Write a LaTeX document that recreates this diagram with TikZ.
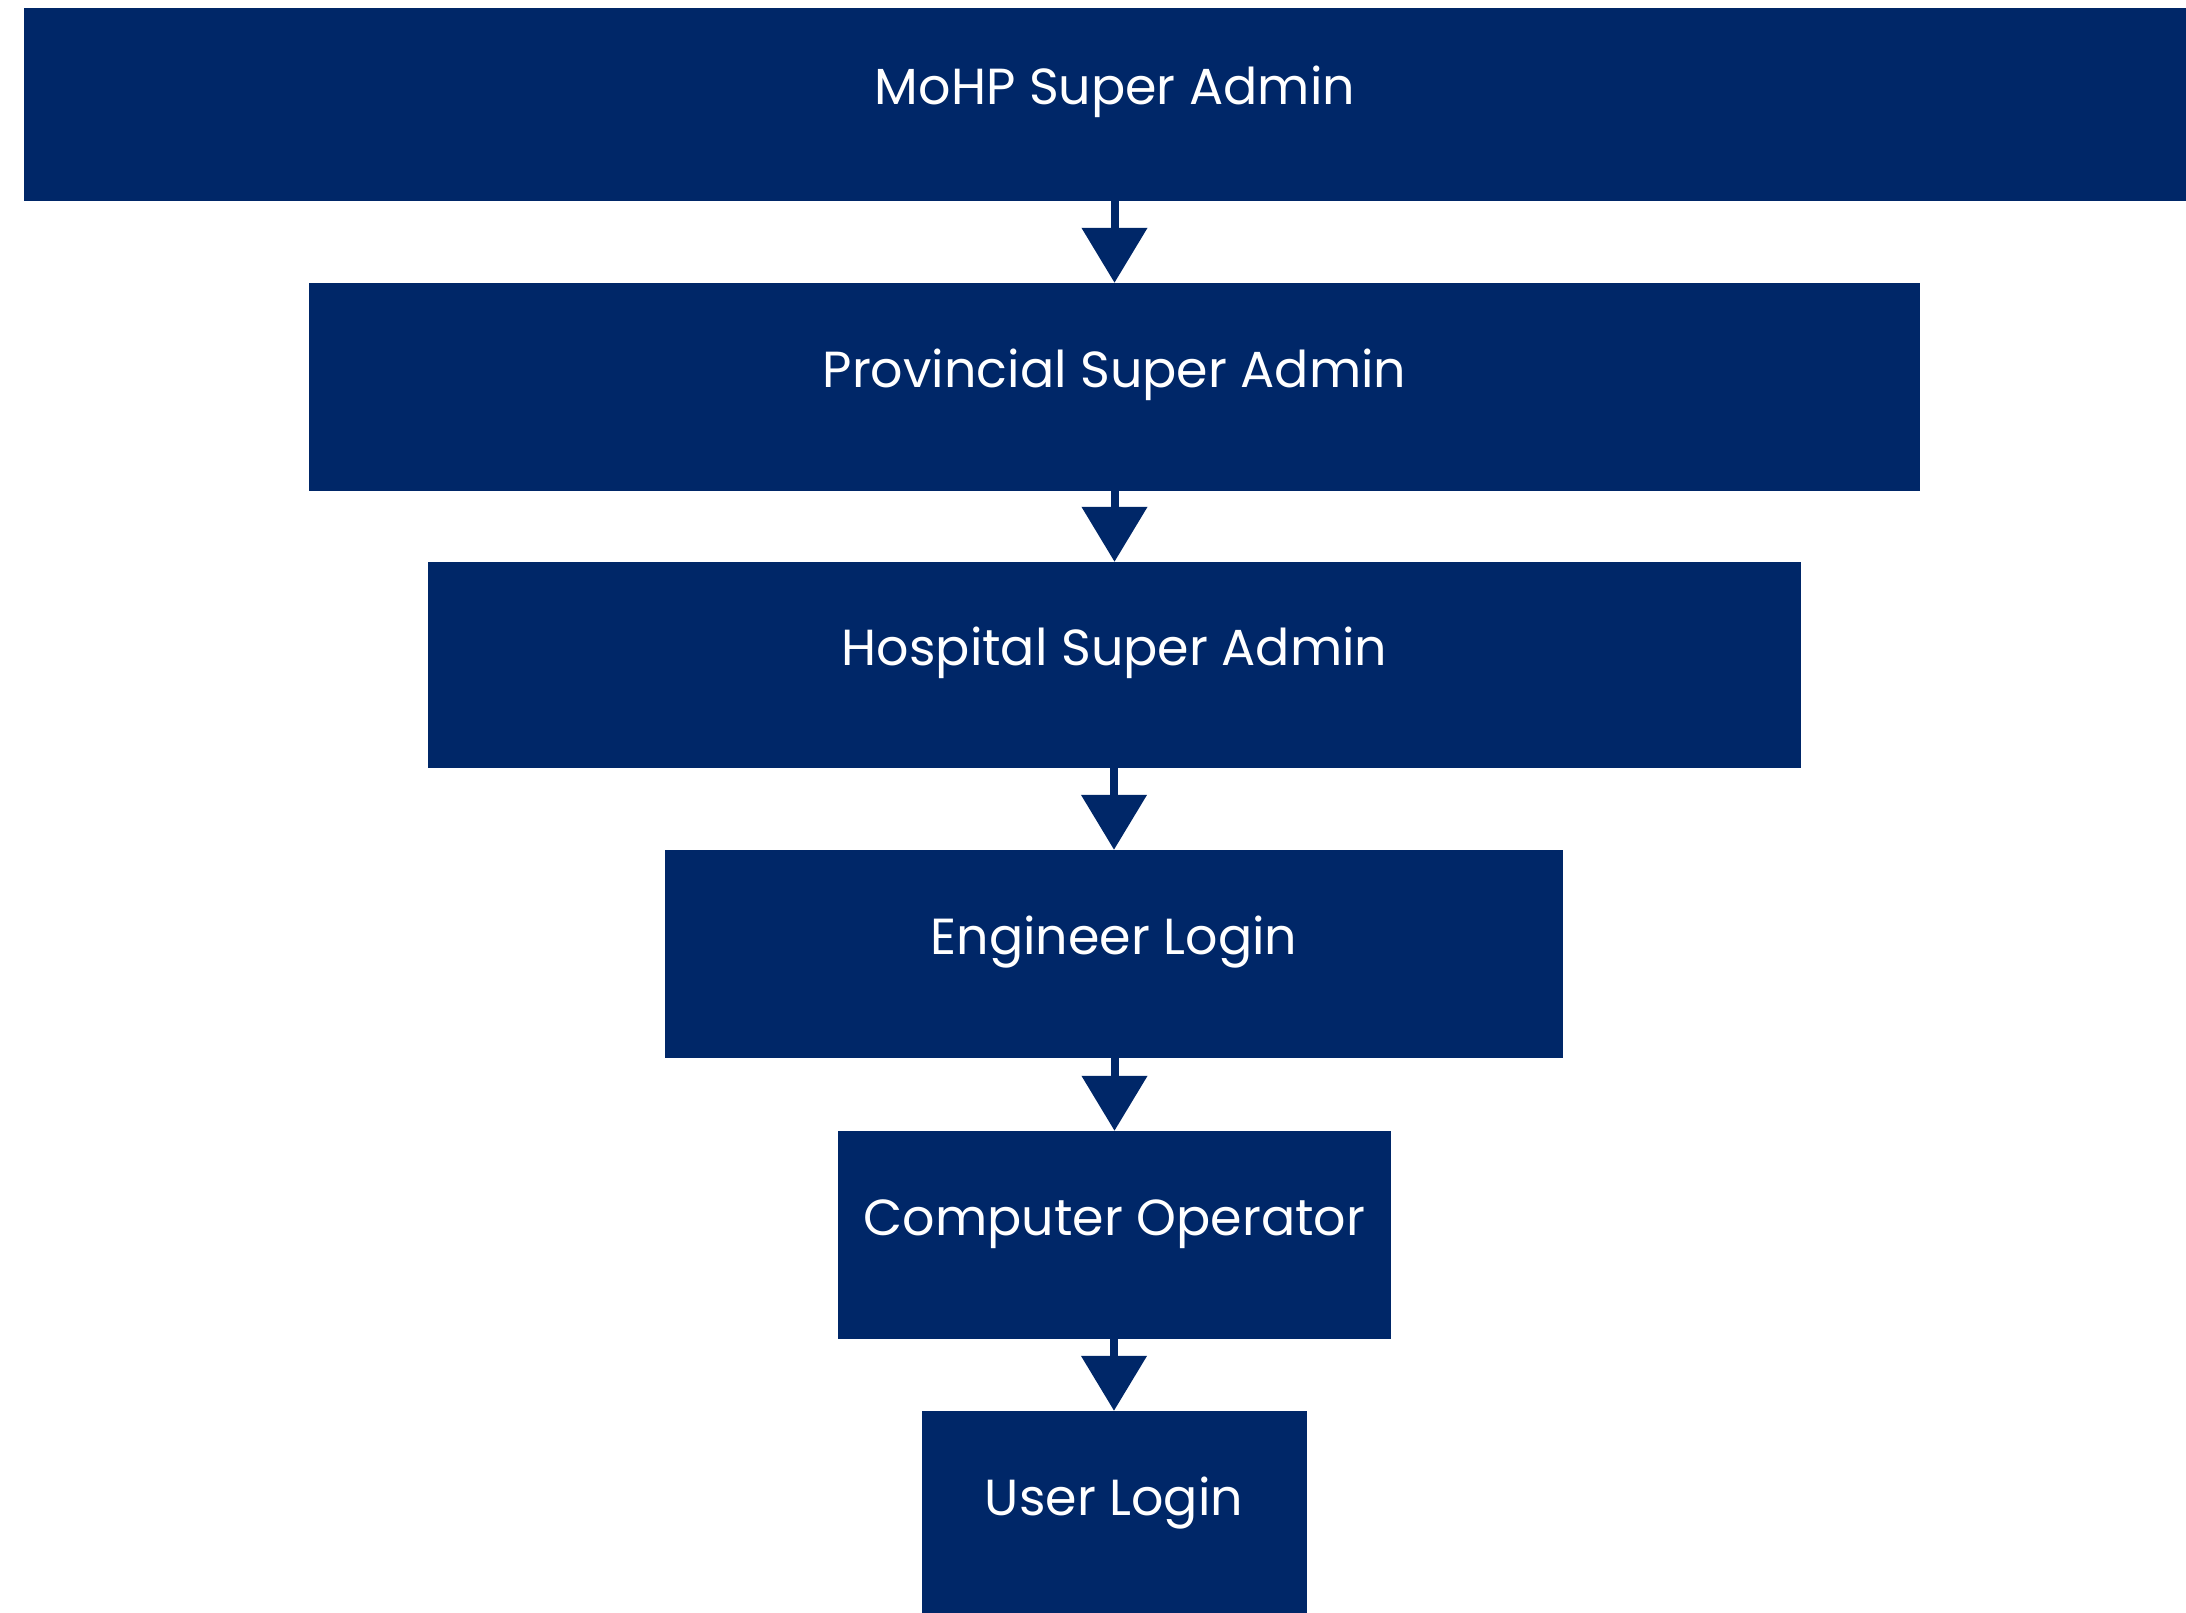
\documentclass[tikz,border=0pt]{standalone}
\usepackage{fontspec}
\setmainfont{Poppins}
\usetikzlibrary{arrows.meta}
\definecolor{navy}{RGB}{0,39,104}
\begin{document}
\begin{tikzpicture}[x=1pt,y=-1pt,
  boxnode/.style={fill=navy, text=white, inner sep=0pt, text height=30pt, text depth=30pt,
    font=\fontsize{50.7}{60}\selectfont},
  arr/.style={draw=navy, line width=8pt, -{Triangle[width=64pt,length=55pt]}}]
\useasboundingbox (0,0) rectangle (2186,1612);
\node[boxnode, minimum width=2182pt, minimum height=193pt] (n1) at (1115,104.5) {MoHP Super Admin};
\node[boxnode, minimum width=1611pt, minimum height=208pt] (n2) at (1114.5,387) {Provincial Super Admin};
\node[boxnode, minimum width=1373pt, minimum height=206pt] (n3) at (1114.5,665) {Hospital Super Admin};
\node[boxnode, minimum width=898pt, minimum height=208pt] (n4) at (1114,954) {Engineer Login};
\node[boxnode, minimum width=553pt, minimum height=208pt] (n5) at (1114.5,1235) {Computer Operator};
\node[boxnode, minimum width=385pt, minimum height=208pt] (n6) at (1114,1515) {User Login};
\draw[arr] (n1.south -| n2.north) -- (n2.north);
\draw[arr] (n2.south -| n3.north) -- (n3.north);
\draw[arr] (n3.south -| n4.north) -- (n4.north);
\draw[arr] (n4.south -| n5.north) -- (n5.north);
\draw[arr] (n5.south -| n6.north) -- (n6.north);
\end{tikzpicture}
\end{document}
